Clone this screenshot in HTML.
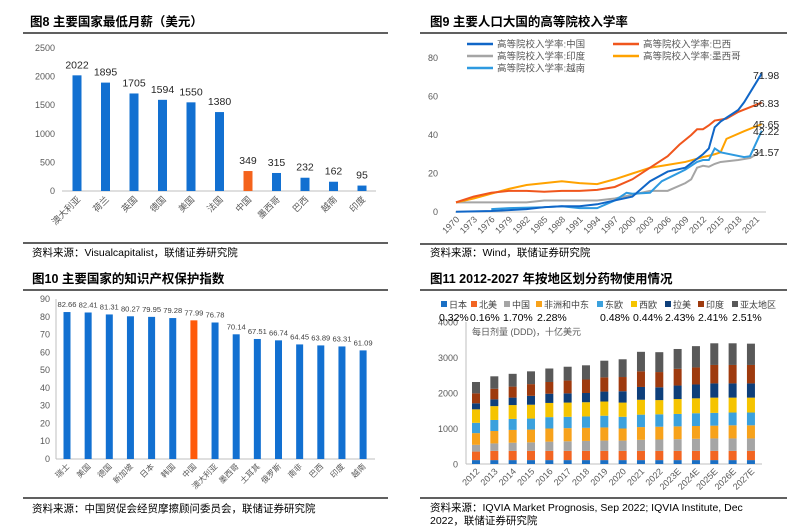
<!DOCTYPE html>
<html><head><meta charset="utf-8"><style>
body{margin:0;background:#fff}
svg{display:block;font-family:"Liberation Sans","Noto Sans CJK SC",sans-serif}
.t{font-weight:bold;font-size:12.5px;fill:#000}
.tk{font-size:9px;fill:#595959}
.src{font-size:10.5px;fill:#000}
</style></head><body>
<svg id="s" width="800" height="529" viewBox="0 0 800 529">
<g>
<text class="t" x="30" y="26">图8  主要国家最低月薪（美元）</text>
<line x1="23" y1="33" x2="388" y2="33" stroke="#000" stroke-width="1.2"/>
<line x1="23" y1="243" x2="388" y2="243" stroke="#000" stroke-width="1.2"/>
<text class="src" x="32" y="256">资料来源：Visualcapitalist，联储证券研究院</text>
</g>
<g>
<text class="t" x="430" y="26">图9  主要人口大国的高等院校入学率</text>
<line x1="420" y1="33" x2="787" y2="33" stroke="#000" stroke-width="1.2"/>
<line x1="420" y1="244" x2="787" y2="244" stroke="#000" stroke-width="1.2"/>
<text class="src" x="430" y="256">资料来源：Wind，联储证券研究院</text>
</g>
<g>
<text class="t" x="32" y="283">图10 主要国家的知识产权保护指数</text>
<line x1="23" y1="290" x2="388" y2="290" stroke="#000" stroke-width="1.2"/>
<line x1="23" y1="498" x2="388" y2="498" stroke="#000" stroke-width="1.2"/>
<text class="src" x="32" y="512">资料来源：中国贸促会经贸摩擦顾问委员会，联储证券研究院</text>
</g>
<g>
<text class="t" x="430" y="283">图11 2012-2027 年按地区划分药物使用情况</text>
<line x1="420" y1="290" x2="787" y2="290" stroke="#000" stroke-width="1.2"/>
<line x1="420" y1="498" x2="787" y2="498" stroke="#000" stroke-width="1.2"/>
<text class="src" x="430" y="511">资料来源：IQVIA Market Prognosis, Sep 2022; IQVIA Institute, Dec</text>
<text class="src" x="430" y="524">2022，联储证券研究院</text>
</g>
<g id="c1"></g>
<g id="c2"></g>
<g id="c3"></g>
<g id="c4"></g>
</svg>
<script>
// Fig 8
const wageCats=["澳大利亚","荷兰","英国","德国","美国","法国","中国","墨西哥","巴西","越南","印度"];
const wageVals=[2022,1895,1705,1594,1550,1380,349,315,232,162,95];
const wageTicks=[0,500,1000,1500,2000,2500];
// Fig 9
const eduYears=[1970,1973,1976,1979,1982,1985,1988,1991,1994,1997,2000,2003,2006,2009,2012,2015,2018,2021];
const chinaYears=[1970,1976,1979,1982,1985,1988,1991,1994,1997,2000,2003,2006,2009,2012,2013,2014,2015,2018,2019,2022];
const chinaVals=[0.1,0.5,1,1.5,2.5,3,3,4,6,8,16,21,23,30,33,44,47,53,57,71.98];
const brazilYears=[1970,1973,1976,1979,1982,1985,1988,1991,1994,1997,2000,2003,2006,2008,2010,2011,2012,2013,2014,2015,2016,2018,2022];
const brazilVals=[5,8,10,11,11,10.5,11,11,11.5,13,17,23,29,35,40,43,43,45,47.5,48,48.5,52,56.83];
const indiaYears=[1970,1976,1982,1985,1988,1991,1994,1997,2000,2003,2006,2009,2010,2011,2012,2013,2014,2015,2018,2020,2022];
const indiaVals=[5,5,5,6,6,6,6,7,9,11,11,15,17,23,24,23.5,25,26,27,28,31.57];
const mexicoYears=[1970,1973,1976,1979,1982,1985,1988,1991,1994,1997,2000,2003,2006,2009,2012,2014,2015,2016,2019,2022];
const mexicoVals=[5,7,9.5,12,14,15,16,15,14.5,17,20,23,24.5,26,28.5,30,31,38,42,45.65];
const vietYears=[1976,1979,1985,1988,1991,1994,1997,1999,2000,2003,2005,2007,2009,2011,2012,2013,2014,2015,2019,2020,2022];
const vietVals=[1.5,2,2.5,3,2,2,6,10,9.5,10,16,19,22,26,27,27,33,31,28.5,29,42.22];
const eduTicks=[0,20,40,60,80];
// Fig 10
const ipCats=["瑞士","美国","德国","新加坡","日本","韩国","中国","澳大利亚","墨西哥","土耳其","俄罗斯","南非","巴西","印度","越南"];
const ipVals=[82.66,82.41,81.31,80.27,79.95,79.28,77.99,76.78,70.14,67.51,66.74,64.45,63.89,63.31,61.09];
const ipTicks=[0,10,20,30,40,50,60,70,80,90];
// Fig 11
const drugYears=["2012","2013","2014","2015","2016","2017","2018","2019","2020","2021","2022","2023E","2024E","2025E","2026E","2027E"];
const regNames=["日本","北美","中国","非洲和中东","东欧","西欧","拉美","印度","亚太地区"];
const regPct=["0.32%","0.16%","1.70%","2.28%","0.48%","0.44%","2.43%","2.41%","2.51%"];
const jpVals=[110,110,110,110,110,110,110,110,110,110,110,110,110,110,110,110];
const naVals=[240,260,260,260,260,260,260,260,260,260,260,260,260,260,260,260];
const cnVals=[190,210,230,240,260,270,280,290,290,310,320,330,340,350,350,350];
const meVals=[330,350,360,360,370,370,370,370,340,360,360,360,360,360,370,370];
const eeVals=[290,310,310,310,320,320,320,330,330,350,350,350,360,360,360,360];
const weVals=[380,390,390,390,400,400,400,400,400,420,400,420,420,430,420,420];
const laVals=[170,190,210,250,260,260,260,280,320,360,360,380,390,400,400,400];
const inVals=[280,300,310,330,330,360,380,400,400,440,430,470,480,520,520,520];
const apVals=[320,350,360,360,380,390,400,470,500,550,560,560,600,610,610,600];
const drugTicks=[0,1000,2000,3000,4000];

const NS="http://www.w3.org/2000/svg";
function mk(p,tag,a,txt){const e=document.createElementNS(NS,tag);for(const k in a)e.setAttribute(k,a[k]);if(txt!==undefined)e.textContent=txt;p.appendChild(e);return e;}

// ---- Fig8
(function(){
const g=document.getElementById('c1');
const y=v=>191-v/2500*143;const x=i=>77+i*28.5;
wageTicks.forEach(t=>{const e=mk(g,'text',{x:55,y:y(t)+3,'text-anchor':'end',class:'tk','font-size':'10'},t);

});
mk(g,'line',{x1:62,y1:191,x2:376,y2:191,stroke:'#bfbfbf'});
wageVals.forEach((v,i)=>{
const r=mk(g,'rect',{x:x(i)-4.5,y:y(v),width:9,height:191-y(v),fill:i==6?'#f4631c':'#1270d1'});


const l=mk(g,'text',{x:x(i),y:y(v)-7,'text-anchor':'middle','font-size':'10.5',fill:'#262626'},v);


const c=mk(g,'text',{x:x(i)+4,y:200,'text-anchor':'end','font-size':'9',fill:'#595959',transform:`rotate(-45 ${x(i)+4} 200)`},wageCats[i]);


});
})();

// ---- Fig9
(function(){
const g=document.getElementById('c2');
const y=v=>212-v/80*154;const x=yr=>456+(yr-1970)*5.88;
eduTicks.forEach(t=>{const e=mk(g,'text',{x:438,y:y(t)+3,'text-anchor':'end',class:'tk','font-size':'9.5'},t);

});
mk(g,'line',{x1:455,y1:212,x2:766,y2:212,stroke:'#bfbfbf'});
eduYears.forEach(yr=>{const e=mk(g,'text',{x:x(yr)+4,y:220,'text-anchor':'end',class:'tk','font-size':'8.5',transform:`rotate(-45 ${x(yr)+4} 220)`},yr);

});
const series=[[indiaYears,indiaVals,'#a5a5a5','印度'],[mexicoYears,mexicoVals,'#ffa200','墨西哥'],[brazilYears,brazilVals,'#f0561d','巴西'],[vietYears,vietVals,'#2e9ae0','越南'],[chinaYears,chinaVals,'#1066c7','中国']];
series.forEach(s=>{const p=mk(g,'polyline',{points:s[0].map((yr,i)=>x(yr)+','+y(s[1][i])).join(' '),fill:'none',stroke:s[2],'stroke-width':2});


const lv=s[1][s[1].length-1];
const ly={'中国':79,'巴西':107,'墨西哥':128,'越南':135,'印度':156}[s[3]];
const t=mk(g,'text',{x:753,y:ly,'font-size':'10.5',fill:'#262626'},lv.toFixed(2));

});
const leg=[['中国','#1066c7',467,44],['巴西','#f0561d',613,44],['印度','#a5a5a5',467,56],['墨西哥','#ffa200',613,56],['越南','#2e9ae0',467,68]];
leg.forEach(l=>{const gg=mk(g,'g',{});


mk(gg,'line',{x1:l[2],y1:l[3],x2:l[2]+26,y2:l[3],stroke:l[1],'stroke-width':2.5});
mk(gg,'text',{x:l[2]+30,y:l[3]+3.5,'font-size':'9.5',fill:'#595959'},'高等院校入学率:'+l[0]);});
})();

// ---- Fig10
(function(){
const g=document.getElementById('c3');
const y=v=>459-v/90*160;const x=i=>67+i*21.15;
ipTicks.forEach(t=>{const e=mk(g,'text',{x:50,y:y(t)+3,'text-anchor':'end',class:'tk','font-size':'9.5'},t);

});
mk(g,'line',{x1:56,y1:459,x2:375,y2:459,stroke:'#bfbfbf'});
mk(g,'line',{x1:56,y1:299,x2:56,y2:459,stroke:'#bfbfbf'});
ipVals.forEach((v,i)=>{
const r=mk(g,'rect',{x:x(i)-3.5,y:y(v),width:7,height:459-y(v),fill:i==6?'#ff5a0a':'#1270d1'});


const l=mk(g,'text',{x:x(i),y:y(v)-5,'text-anchor':'middle','font-size':'7.6',fill:'#404040'},v.toFixed(2));


const c=mk(g,'text',{x:x(i)+3,y:467,'text-anchor':'end','font-size':'8','fill':'#595959',transform:`rotate(-45 ${x(i)+3} 467)`},ipCats[i]);


});
})();

// ---- Fig11
(function(){
const g=document.getElementById('c4');
const y=v=>464-v/4000*142;const x=i=>476+i*18.33;
const cols=['#1a6fc4','#f26522','#a5a5a5','#f7a21b','#3ba1dd','#f5c400','#0e3f7a','#9e3a0e','#595959'];
const data=[jpVals,naVals,cnVals,meVals,eeVals,weVals,laVals,inVals,apVals];
drugTicks.forEach(t=>{const e=mk(g,'text',{x:458,y:y(t)+3.5,'text-anchor':'end',class:'tk','font-size':'10'},t);

});
mk(g,'line',{x1:466,y1:322,x2:466,y2:464,stroke:'#bfbfbf'});
mk(g,'line',{x1:466,y1:464,x2:762,y2:464,stroke:'#bfbfbf'});
drugYears.forEach((yr,i)=>{let acc=0;
data.forEach((s,k)=>{const r=mk(g,'rect',{x:x(i)-4,y:y(acc+s[i]),width:8,height:y(acc)-y(acc+s[i]),fill:cols[k]});


acc+=s[i];});
const c=mk(g,'text',{x:x(i)+4,y:472,'text-anchor':'end','font-size':'9',fill:'#595959',transform:`rotate(-45 ${x(i)+4} 472)`},yr);

});
const t=mk(g,'text',{x:472,y:335,'font-size':'9',fill:'#595959'},'每日剂量 (DDD)，十亿美元');


const lx=[441,471,504,536,597,631,665,698,732];
const px=[439,470,503,537,600,633,665,698,732];
regNames.forEach((n,k)=>{const gg=mk(g,'g',{});


mk(gg,'rect',{x:lx[k],y:301,width:6,height:6,fill:cols[k]});
mk(gg,'text',{x:lx[k]+8,y:308,'font-size':'9',fill:'#404040'},n);
mk(gg,'text',{x:px[k],y:321,'font-size':'10.5',fill:'#000'},regPct[k]);});
})();
</script>
</body></html>
